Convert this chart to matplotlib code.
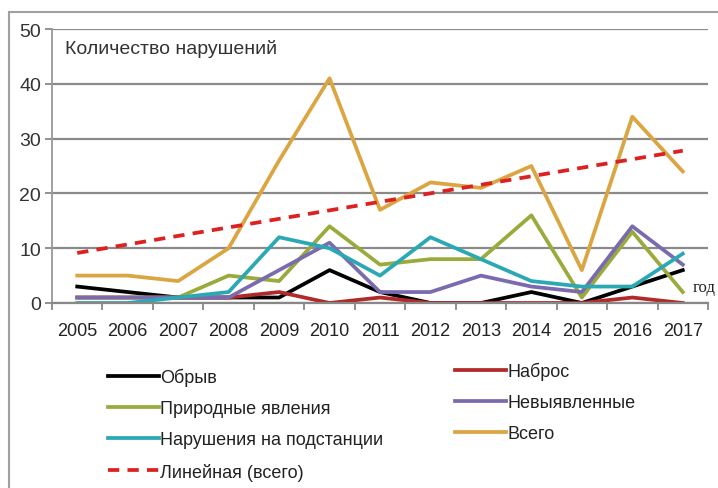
import numpy as np
import matplotlib.pyplot as plt

# Number of faults per year, by cause
years = ['2005', '2006', '2007', '2008', '2009', '2010', '2011',
         '2012', '2013', '2014', '2015', '2016', '2017']
obryv = [3, 2, 1, 1, 1, 6, 2, 0, 0, 2, 0, 3, 6]
nabros = [1, 1, 1, 1, 2, 0, 1, 0, 0, 0, 0, 1, 0]
prirodnye = [1, 1, 1, 5, 4, 14, 7, 8, 8, 16, 1, 13, 2]
nevyyavlennye = [1, 1, 1, 1, 6, 11, 2, 2, 5, 3, 2, 14, 7]
podstancii = [0, 0, 1, 2, 12, 10, 5, 12, 8, 4, 3, 3, 9]
vsego = [5, 5, 4, 10, 26, 41, 17, 22, 21, 25, 6, 34, 24]

plt.rcParams['font.family'] = ['Liberation Sans', 'DejaVu Sans']

x = np.arange(len(years))

fig = plt.figure(figsize=(7.18, 4.89), dpi=100)
ax = fig.add_axes([52 / 718, 1 - 304 / 489, 656 / 718, 274 / 489])

# outer chart frame
frame = plt.Rectangle((9 / 718, -0.05), 1.1, 1 - 13 / 489 + 0.05,
                      transform=fig.transFigure, fill=False,
                      edgecolor='#a0a0a0', linewidth=1.5)
fig.patches.append(frame)

lw = 2.7
l_obryv, = ax.plot(x, obryv, color='black', lw=lw)
l_nabros, = ax.plot(x, nabros, color='#b02a2a', lw=lw)
l_prir, = ax.plot(x, prirodnye, color='#9aab3b', lw=lw)
l_nev, = ax.plot(x, nevyyavlennye, color='#7b6aae', lw=lw)
l_pod, = ax.plot(x, podstancii, color='#2aa9b4', lw=lw)
l_vsego, = ax.plot(x, vsego, color='#dba542', lw=lw)

# linear trend of the total
k, b = np.polyfit(x, vsego, 1)
l_trend, = ax.plot(x, k * x + b, color='#dd2020', lw=2.7, ls=(0, (3, 2.2)))

ax.set_xlim(-0.5, len(years) - 0.5)
ax.set_ylim(0, 50)
ax.set_yticks(range(0, 51, 10))
ax.set_xticks(x)
ax.set_xticklabels(years, fontsize=13)
ax.set_xticks(np.arange(-0.5, len(years)), minor=True)
ax.tick_params(axis='x', which='major', length=0, pad=14)
ax.tick_params(axis='x', which='minor', length=5, width=1.3, color='#888888')
ax.tick_params(axis='y', length=5, width=1.3, color='#888888', labelsize=14,
               labelcolor='#333333', pad=3)
ax.tick_params(axis='x', labelcolor='#222222')
ax.yaxis.grid(True, color='#8a8a8a', lw=1.6)
ax.set_axisbelow(True)
for side in ['top', 'right']:
    ax.spines[side].set_visible(False)
ax.spines['left'].set_color('#999999')
ax.spines['left'].set_linewidth(1.3)
ax.spines['bottom'].set_color('#888888')
ax.spines['bottom'].set_linewidth(1.6)

ax.text(0.02, 0.93, 'Количество нарушений', transform=ax.transAxes,
        fontsize=14, color='#333333', va='center', ha='left')
ax.text(12.2, 3.0, 'год', fontsize=12, family='Liberation Serif',
        color='#222222', va='center', ha='left')

# legend in two columns, placed separately
legend_kw = dict(loc='upper left', frameon=False, fontsize=13,
                 handlelength=2.8, handletextpad=0.1, labelspacing=0.78,
                 borderpad=0, borderaxespad=0, labelcolor='#222222')
fig.legend([l_obryv, l_prir, l_pod, l_trend],
           ['Обрыв', 'Природные явления', 'Нарушения на подстанции',
            'Линейная (всего)'],
           bbox_to_anchor=(108 / 718, 1 - 369 / 489), **legend_kw)
fig.legend([l_nabros, l_nev, l_vsego],
           ['Наброс', 'Невыявленные', 'Всего'],
           bbox_to_anchor=(455 / 718, 1 - 363 / 489), **legend_kw)

fig.savefig('out.png', dpi=100)
